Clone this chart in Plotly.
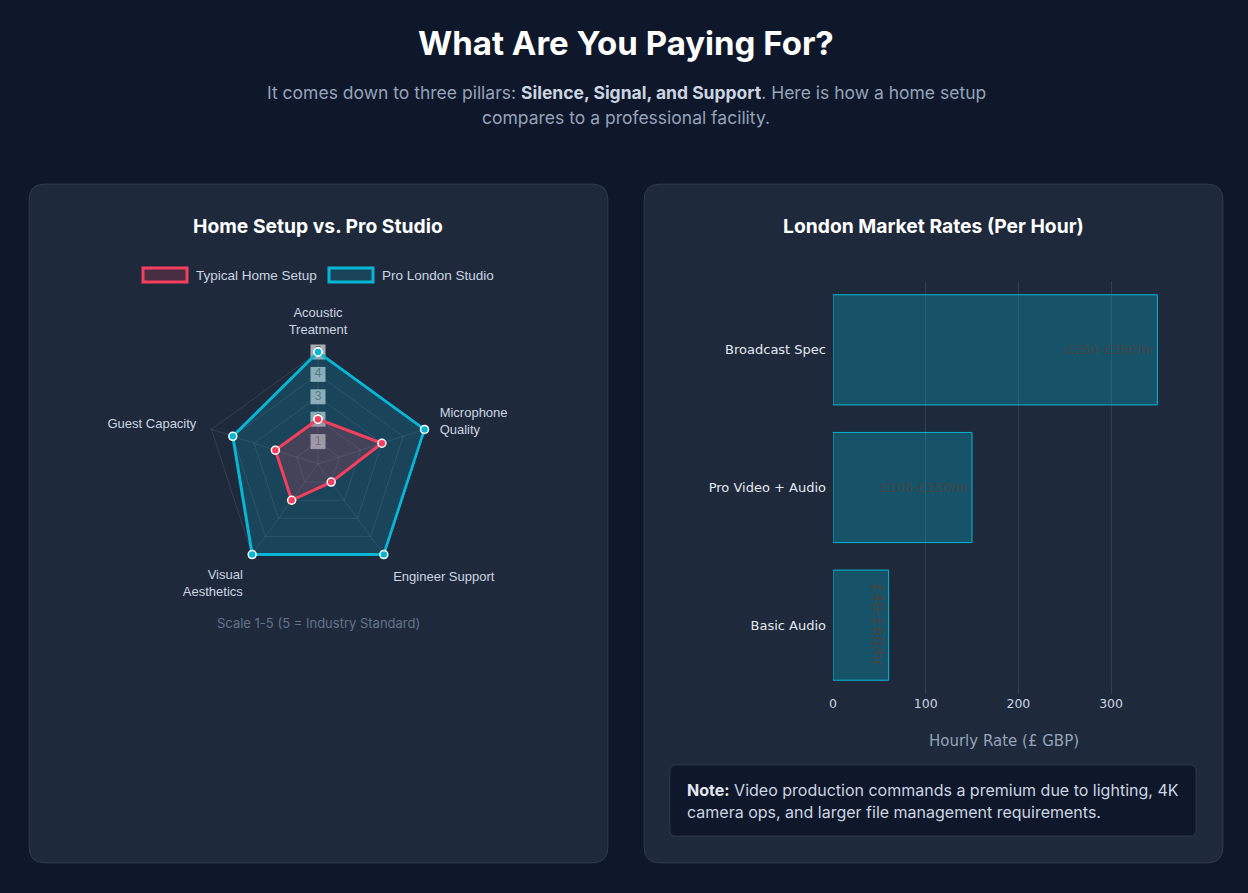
import plotly.graph_objects as go

W, H = 1248, 893

# ---------------- data ----------------
radar_categories = ["Acoustic<br>Treatment", "Microphone<br>Quality", "Engineer Support",
                    "Visual<br>Aesthetics", "Guest Capacity"]
home_scores = [2, 3, 1, 2, 2]
pro_scores = [5, 5, 5, 5, 4]
radial_ticks = [1, 2, 3, 4, 5]
radial_max = 5.08  # a little headroom so the outer line is not clipped

rate_categories = ["Broadcast Spec", "Pro Video + Audio", "Basic Audio"]
rate_values = [350, 150, 60]
rate_labels = ["£250-£350/hr", "£100-£150/hr", "£40-£60/hr"]
rate_ticks = [0, 100, 200, 300]

BG = "#0f172a"
CARD = "#1e293b"
BORDER = "rgba(255,255,255,0.10)"
RED = "#f43f5e"
CYAN = "#06b6d4"


def px(x):
    return x / W


def py(y):
    return 1 - y / H


def rrect(x0, y0, x1, y1, r):
    rx, ry = r / W, r / H
    X0, X1 = px(x0), px(x1)
    Y0, Y1 = py(y0), py(y1)
    return (f"M {X0+rx},{Y0} L {X1-rx},{Y0} Q {X1},{Y0} {X1},{Y0-ry} "
            f"L {X1},{Y1+ry} Q {X1},{Y1} {X1-rx},{Y1} L {X0+rx},{Y1} "
            f"Q {X0},{Y1} {X0},{Y1+ry} L {X0},{Y0-ry} Q {X0},{Y0} {X0+rx},{Y0} Z")


fig = go.Figure()

# radial tick labels with backdrop (drawn under the datasets)
fig.add_trace(go.Scatterpolar(
    r=radial_ticks, theta=[radar_categories[0]] * len(radial_ticks),
    mode="markers+text", text=[str(t) for t in radial_ticks],
    textposition="middle center", cliponaxis=False,
    textfont=dict(family="Liberation Sans, Arial", size=12, color="#6b6b6b"),
    marker=dict(symbol="square", size=15, color="rgba(255,255,255,0.62)"),
    showlegend=False, hoverinfo="skip", subplot="polar"))

# Pro first so that the home dataset is drawn on top (as in the reference)
for name, vals, col, fillc in [
        ("Pro London Studio", pro_scores, CYAN, "rgba(6,182,212,0.20)"),
        ("Typical Home Setup", home_scores, RED, "rgba(244,63,94,0.20)")]:
    fig.add_trace(go.Scatterpolar(
        r=vals + [vals[0]], theta=radar_categories + [radar_categories[0]],
        mode="lines+markers", fill="toself", fillcolor=fillc, name=name,
        line=dict(color=col, width=3), cliponaxis=False,
        marker=dict(color=col, size=8, line=dict(color="#ffffff", width=1.5)),
        showlegend=False, subplot="polar"))

bar_marker = dict(color="rgba(6,182,212,0.30)", line=dict(color=CYAN, width=1))
fig.add_trace(go.Bar(
    x=rate_values[:2], y=rate_categories[:2], orientation="h",
    text=rate_labels[:2], textposition="inside", insidetextanchor="end", textangle=0,
    textfont=dict(family="DejaVu Sans", size=13, color="#444444"),
    marker=bar_marker, showlegend=False, width=0.8))
fig.add_trace(go.Bar(
    x=rate_values[2:], y=rate_categories[2:], orientation="h",
    text=rate_labels[2:], textposition="inside", insidetextanchor="end", textangle=90,
    textfont=dict(family="DejaVu Sans", size=15, color="#444444"),
    marker=bar_marker, showlegend=False, width=0.8))

cx, cy = 318, 464
R = 112 * radial_max / 5

shapes = [
    dict(type="path", path=rrect(29, 184, 608, 863, 16), xref="paper", yref="paper",
         fillcolor=CARD, line=dict(color=BORDER, width=1), layer="below"),
    dict(type="path", path=rrect(644, 184, 1223, 863, 16), xref="paper", yref="paper",
         fillcolor=CARD, line=dict(color=BORDER, width=1), layer="below"),
    dict(type="path", path=rrect(670, 765, 1196, 836, 6), xref="paper", yref="paper",
         fillcolor=BG, line=dict(color=BORDER, width=1), layer="below"),
    dict(type="rect", xref="paper", yref="paper", x0=px(143), x1=px(187), y0=py(282), y1=py(268),
         fillcolor="rgba(244,63,94,0.20)", line=dict(color=RED, width=3)),
    dict(type="rect", xref="paper", yref="paper", x0=px(329), x1=px(373), y0=py(282), y1=py(268),
         fillcolor="rgba(6,182,212,0.20)", line=dict(color=CYAN, width=3)),
]

ann = []


def A(text, x, y, size, color, family="Inter", xanchor="center", bold=False):
    ann.append(dict(text=f"<b>{text}</b>" if bold else text, x=px(x), y=py(y),
                    xref="paper", yref="paper", xanchor=xanchor, yanchor="middle",
                    showarrow=False, font=dict(size=size, color=color, family=family)))


A("What Are You Paying For?", 626, 43, 33, "#ffffff", bold=True)
A("It comes down to three pillars: <b><span style='color:#cbd5e1'>Silence, Signal, and Support</span></b>. Here is how a home setup",
  626, 92, 17.5, "#94a3b8")
A("compares to a professional facility.", 626, 118, 17.5, "#94a3b8")
A("Home Setup vs. Pro Studio", 318, 226, 19.3, "#ffffff", bold=True)
A("London Market Rates (Per Hour)", 933, 226, 19.3, "#ffffff", bold=True)
A("Typical Home Setup", 194, 275, 13.5, "#cbd5e1", family="Liberation Sans, Arial", xanchor="left")
A("Pro London Studio", 380, 275, 13.5, "#cbd5e1", family="Liberation Sans, Arial", xanchor="left")
A("Scale 1-5 (5 = Industry Standard)", 318, 623, 13, "#64748b")
A("<b><span style='color:#e2e8f0'>Note:</span></b> Video production commands a premium due to lighting, 4K",
  685, 790, 16, "#cbd5e1", xanchor="left")
A("camera ops, and larger file management requirements.", 685, 812, 16, "#cbd5e1", xanchor="left")

GRID = "rgba(255,255,255,0.10)"

fig.update_layout(
    width=W, height=H, margin=dict(l=0, r=0, t=0, b=0, autoexpand=False),
    paper_bgcolor=BG, plot_bgcolor="rgba(0,0,0,0)",
    shapes=shapes, annotations=ann, showlegend=False, barmode="overlay",
    polar=dict(
        domain=dict(x=[px(cx - R), px(cx + R)], y=[py(cy + R), py(cy - R)]),
        bgcolor="rgba(0,0,0,0)", gridshape="linear",
        radialaxis=dict(range=[0, radial_max], tickvals=radial_ticks, showticklabels=False,
                        ticks="", gridcolor=GRID, showline=False),
        angularaxis=dict(rotation=90, direction="clockwise", gridcolor=GRID,
                         showline=False, ticks="outside", ticklen=11,
                         tickcolor="rgba(0,0,0,0)",
                         tickfont=dict(family="Liberation Sans, Arial", size=13, color="#cbd5e1")),
    ),
    xaxis=dict(domain=[px(833), px(1175)], range=[0, 369], tickvals=rate_ticks,
               gridcolor=GRID, zeroline=False, showline=False, ticks="",
               tickfont=dict(family="DejaVu Sans", size=12.5, color="#cbd5e1"),
               title=dict(text="Hourly Rate (£ GBP)", standoff=25,
                          font=dict(family="DejaVu Sans", size=15, color="#94a3b8"))),
    yaxis=dict(domain=[py(694), py(281)], autorange="reversed", showgrid=False,
               ticks="", ticklabelstandoff=6,
               tickfont=dict(family="DejaVu Sans", size=13, color="#e2e8f0")),
    bargap=0.2,
)

fig.write_html("out.html")
